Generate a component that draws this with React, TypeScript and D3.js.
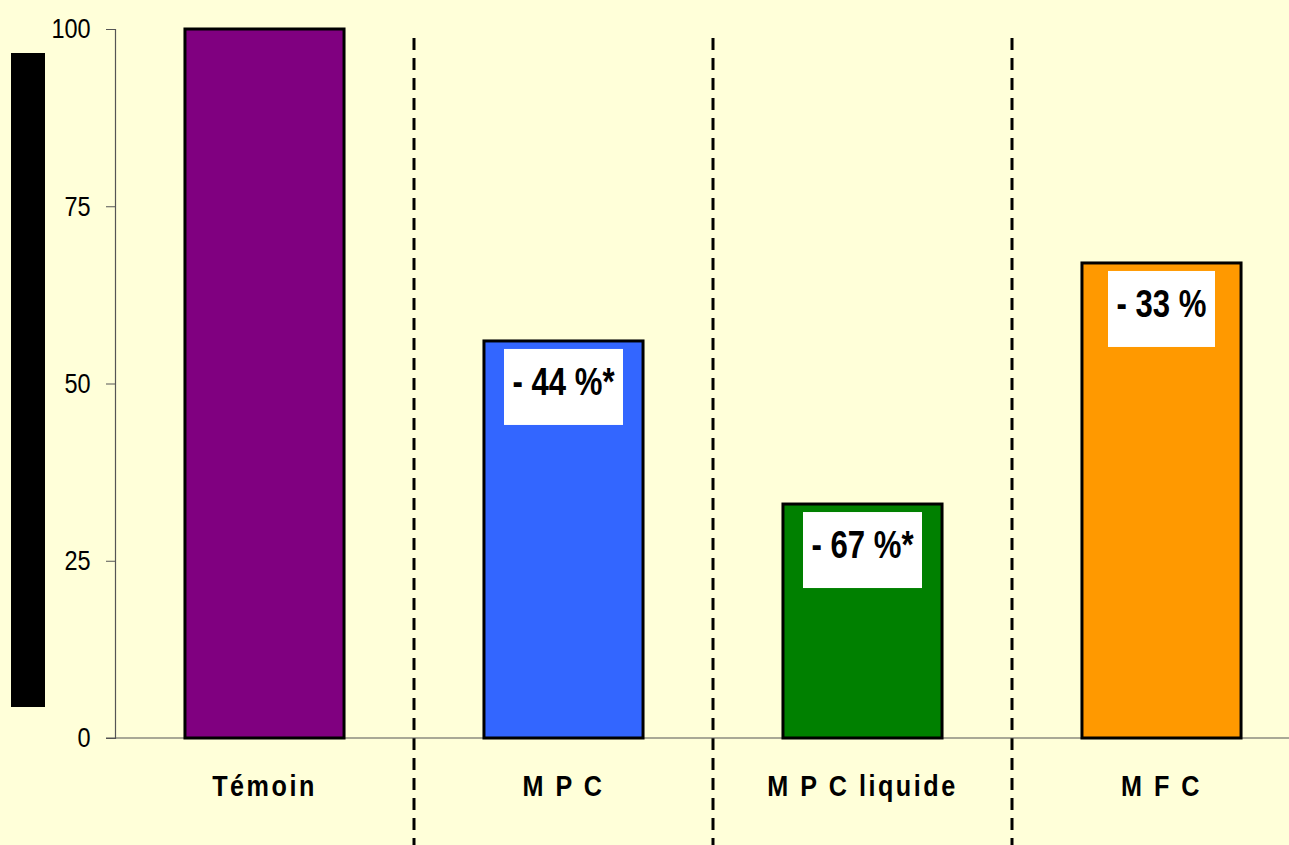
import { useEffect, useRef } from "react";
import * as d3 from "d3";

const categories = ["Témoin", "M P C", "M P C liquide", "M F C"];
const values = [100, 56, 33, 67];
const barColors = ["#800080", "#3366FF", "#008000", "#FF9900"];
const annotations = ["", "- 44 %*", "- 67 %*", "- 33 %"];
const yTicks = [0, 25, 50, 75, 100];

const W = 1289;
const H = 845;
const FONT = "'Liberation Sans', Arial, sans-serif";

export default function App() {
  const ref = useRef<SVGSVGElement>(null);

  useEffect(() => {
    if (!ref.current) return;
    const svg = d3.select(ref.current);
    svg.selectAll("*").remove();

    // background
    svg.append("rect").attr("width", W).attr("height", H).attr("fill", "#FFFFD9");

    const x = d3.scaleBand<string>().domain(categories).range([115, 1311]).paddingInner(0.468).paddingOuter(0.234);
    const y = d3.scaleLinear().domain([0, 100]).range([738, 29]);

    // black block on the left (hidden axis title)
    svg.append("rect").attr("x", 11).attr("y", 53).attr("width", 34).attr("height", 654).attr("fill", "#000");

    // dashed separators between categories
    const step = x.step();
    categories.slice(1).forEach((c) => {
      const sx = (x(c) as number) - (step - x.bandwidth()) / 2;
      svg.append("line")
        .attr("x1", sx).attr("x2", sx)
        .attr("y1", 38).attr("y2", H)
        .attr("stroke", "#000")
        .attr("stroke-width", 3)
        .attr("stroke-dasharray", "12 8");
    });

    // y axis (condensed look via scaleX)
    const yAxis = svg.append("g")
      .attr("transform", "translate(115,0)")
      .call(d3.axisLeft(y).tickValues(yTicks).tickSize(9).tickPadding(20).tickFormat(d3.format("d")));
    yAxis.select(".domain").attr("stroke", "#555").attr("stroke-width", 1.2);
    yAxis.selectAll(".tick line").attr("stroke", "#555");
    yAxis.selectAll("text")
      .attr("transform", "scale(0.84,1)")
      .style("font-family", FONT)
      .style("font-size", "28px")
      .attr("fill", "#000");

    // x axis line
    svg.append("line")
      .attr("x1", 106).attr("x2", W)
      .attr("y1", 738).attr("y2", 738)
      .attr("stroke", "#555").attr("stroke-width", 1.2);

    // bars
    svg.selectAll(".bar")
      .data(values)
      .enter()
      .append("rect")
      .attr("x", (d, i) => x(categories[i]) as number)
      .attr("y", (d) => y(d))
      .attr("width", x.bandwidth())
      .attr("height", (d) => y(0) - y(d))
      .attr("fill", (d, i) => barColors[i])
      .attr("stroke", "#000")
      .attr("stroke-width", 3);

    // annotation boxes
    values.forEach((v, i) => {
      if (!annotations[i]) return;
      const cx = (x(categories[i]) as number) + x.bandwidth() / 2;
      const top = y(v) + 8;
      const bw = annotations[i].includes("*") ? 119 : 107;
      svg.append("rect")
        .attr("x", cx - bw / 2)
        .attr("y", top)
        .attr("width", bw)
        .attr("height", 76)
        .attr("fill", "#fff");
      svg.append("text")
        .attr("transform", `translate(${cx},${top + 46}) scale(0.82,1)`)
        .attr("text-anchor", "middle")
        .style("font-family", FONT)
        .style("font-weight", "bold")
        .style("font-size", "38px")
        .attr("fill", "#000")
        .text(annotations[i]);
    });

    // category labels
    categories.forEach((c) => {
      const cx = (x(c) as number) + x.bandwidth() / 2;
      svg.append("text")
        .attr("transform", `translate(${cx},796) scale(0.84,1)`)
        .attr("text-anchor", "middle")
        .style("font-family", FONT)
        .style("font-weight", "bold")
        .style("font-size", "30px")
        .style("letter-spacing", "3px")
        .attr("fill", "#000")
        .text(c);
    });
  }, []);

  return <svg ref={ref} width={W} height={H} style={{ position: "absolute", left: 0, top: 0 }} />;
}
